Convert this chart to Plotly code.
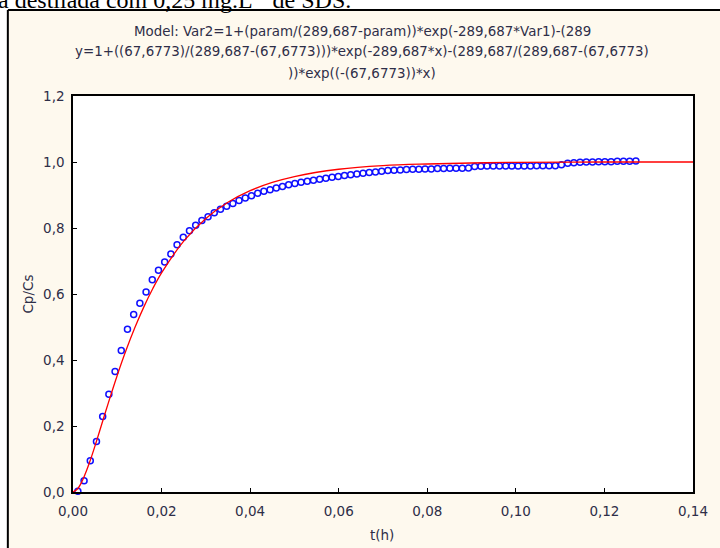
import plotly.graph_objects as go

# measured data (t in h, Cp/Cs)
t_data = [0.0011, 0.0025, 0.0039, 0.0053, 0.0067, 0.0081, 0.0095, 0.0109, 0.0123, 0.0137,
          0.0151, 0.0165, 0.0179, 0.0193, 0.0207, 0.0221, 0.0235, 0.0249, 0.0263, 0.0277,
          0.0291, 0.0305, 0.0319, 0.0333, 0.0347, 0.0361, 0.0375, 0.0389, 0.0403, 0.0417,
          0.0431, 0.0445, 0.0459, 0.0473, 0.0487, 0.0501, 0.0515, 0.0529, 0.0543, 0.0557,
          0.0571, 0.0585, 0.0599, 0.0613, 0.0627, 0.0641, 0.0655, 0.0669, 0.0683, 0.0697,
          0.0711, 0.0725, 0.0739, 0.0753, 0.0767, 0.0781, 0.0795, 0.0809, 0.0823, 0.0837,
          0.0851, 0.0865, 0.0879, 0.0893, 0.0907, 0.0921, 0.0935, 0.0949, 0.0963, 0.0977,
          0.0991, 0.1005, 0.1019, 0.1033, 0.1047, 0.1061, 0.1075, 0.1089, 0.1103, 0.1117,
          0.1131, 0.1145, 0.1159, 0.1173, 0.1187, 0.1201, 0.1215, 0.1229, 0.1243, 0.1257,
          0.1271]
cp_data = [0.002, 0.034, 0.095, 0.153, 0.229, 0.296, 0.365, 0.429, 0.493, 0.538,
           0.572, 0.606, 0.643, 0.672, 0.697, 0.721, 0.749, 0.772, 0.792, 0.808,
           0.823, 0.834, 0.846, 0.857, 0.866, 0.874, 0.883, 0.891, 0.898, 0.905,
           0.911, 0.916, 0.921, 0.926, 0.931, 0.935, 0.939, 0.942, 0.945, 0.948,
           0.951, 0.954, 0.956, 0.959, 0.961, 0.964, 0.966, 0.968, 0.970, 0.972,
           0.974, 0.975, 0.976, 0.977, 0.978, 0.978, 0.979, 0.979, 0.980, 0.980,
           0.981, 0.981, 0.981, 0.982, 0.986, 0.987, 0.988, 0.988, 0.988, 0.988,
           0.988, 0.988, 0.988, 0.988, 0.989, 0.989, 0.989, 0.989, 0.992, 0.996,
           0.998, 0.999, 1.000, 1.000, 1.001, 1.001, 1.001, 1.002, 1.002, 1.002,
           1.003]

# fitted model curve
t_model = [0, 0.001, 0.002, 0.003, 0.004, 0.005, 0.006, 0.008, 0.010, 0.012, 0.014, 0.016,
           0.018, 0.020, 0.025, 0.030, 0.035, 0.040, 0.045, 0.050, 0.060, 0.070, 0.080,
           0.090, 0.100, 0.120, 0.140]
cp_model = [0, 0.009, 0.031, 0.063, 0.100, 0.141, 0.184, 0.271, 0.354, 0.430, 0.499, 0.561,
            0.616, 0.664, 0.760, 0.829, 0.878, 0.913, 0.938, 0.956, 0.978, 0.989, 0.994,
            0.997, 0.999, 1.000, 1.000]

title_lines = [
    "Model: Var2=1+(param/(289,687-param))*exp(-289,687*Var1)-(289",
    "y=1+((67,6773)/(289,687-(67,6773)))*exp(-289,687*x)-(289,687/(289,687-(67,6773)",
    "))*exp((-(67,6773))*x)",
]
doc_text = "a destilada com 0,25 mg.L<sup>-1</sup> de SDS."

FONT = "DejaVu Sans"
TXT = "#2e2e48"
CREAM = "#fef9ee"

# layout geometry (pixels)
W, H = 720, 548
L, R, T, B = 73, 19, 96, 56
PW, PH = W - L - R, H - T - B


def px(x):
    return (x - L) / PW


def py(y):
    return (H - B - y) / PH


fig = go.Figure()
fig.add_trace(go.Scatter(
    x=t_data, y=cp_data, mode="markers",
    marker=dict(symbol="circle-open", size=6, color="#1010ff", line=dict(width=1.5)),
    cliponaxis=False, showlegend=False, hoverinfo="x+y"))
fig.add_trace(go.Scatter(
    x=t_model, y=cp_model, mode="lines", line=dict(color="#ff0000", width=1.3, shape="spline"),
    showlegend=False))

axis_common = dict(showline=True, linecolor="black", linewidth=1.5, mirror=True,
                   ticks="inside", ticklen=4, tickcolor="black", tickwidth=1,
                   showgrid=False, zeroline=False,
                   tickfont=dict(family=FONT, size=13.5, color=TXT))

fig.update_xaxes(range=[0, 0.14], dtick=0.02, tick0=0, tickformat=".2f",
                 ticklabelstandoff=6, **axis_common)
fig.update_yaxes(range=[0, 1.2], dtick=0.2, tick0=0, tickformat=".1f",
                 ticklabelstandoff=4, **axis_common)

annotations = []
for i, (line, yc) in enumerate(zip(title_lines, [31.7, 51.7, 73.5])):
    annotations.append(dict(text=line, x=px(366), y=py(yc), xref="paper", yref="paper",
                            xanchor="center", yanchor="middle", showarrow=False,
                            font=dict(family=FONT, size=13.4, color=TXT)))
annotations.append(dict(text="Cp/Cs", x=px(27), y=py(294), xref="paper", yref="paper",
                        textangle=-90, xanchor="center", yanchor="middle", showarrow=False,
                        font=dict(family=FONT, size=13.5, color=TXT)))
annotations.append(dict(text="t(h)", x=px(386), y=py(535), xref="paper", yref="paper",
                        xanchor="center", yanchor="middle", showarrow=False,
                        font=dict(family=FONT, size=13.5, color=TXT)))
annotations.append(dict(text=doc_text, x=px(-5), y=py(-2), xref="paper", yref="paper",
                        xanchor="left", yanchor="middle", showarrow=False,
                        font=dict(family="Liberation Serif", size=24, color="black")))

shapes = [
    dict(type="rect", xref="paper", yref="paper", x0=px(-20), x1=px(W + 20), y0=py(10),
         y1=py(-60), fillcolor="white", line=dict(width=0), layer="above"),
    dict(type="rect", xref="paper", yref="paper", x0=px(-20), x1=px(7), y0=py(H + 20),
         y1=py(10), fillcolor="white", line=dict(width=0), layer="above"),
    dict(type="line", xref="paper", yref="paper", x0=px(7), x1=px(W + 20), y0=py(10),
         y1=py(10), line=dict(color="black", width=2), layer="above"),
    dict(type="line", xref="paper", yref="paper", x0=px(7), x1=px(7), y0=py(10),
         y1=py(H + 20), line=dict(color="black", width=2), layer="above"),
]

fig.update_layout(width=W, height=H, margin=dict(l=L, r=R, t=T, b=B),
                  paper_bgcolor=CREAM, plot_bgcolor="white", separators=",.",
                  annotations=annotations, shapes=shapes, showlegend=False,
                  font=dict(family=FONT, size=13.5, color=TXT))

fig.write_html("out.html", config={"displayModeBar": False},
               post_script="document.body.style.margin='0px';"
                           "document.body.style.overflow='hidden';")
